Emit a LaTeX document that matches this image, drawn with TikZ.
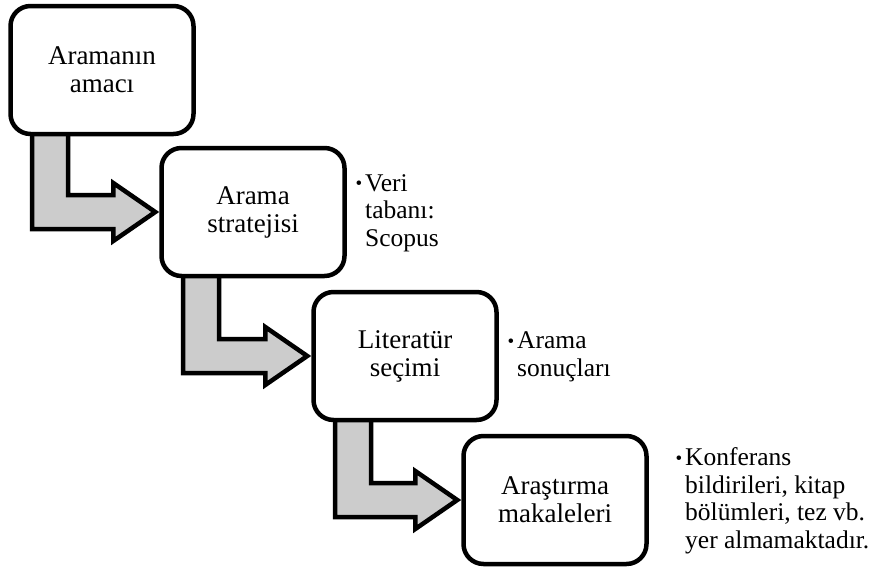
\documentclass[tikz,border=0pt]{standalone}
\usepackage{fontspec}
\setmainfont{Liberation Serif}
\usetikzlibrary{calc,backgrounds}
\newcommand{\mybul}{\llap{\raisebox{1.5pt}{\fontsize{19}{19}\selectfont •}\hspace{3pt}}}
\begin{document}
\begin{tikzpicture}[x=1pt,y=-1pt,
  stepbox/.style={draw, line width=4.5pt, rounded corners=20pt, fill=white,
    minimum width=183pt, minimum height=128pt, align=center, inner sep=0pt,
    font=\fontsize{27}{28}\selectfont},
  note/.style={anchor=west, align=left, inner sep=0pt,
    font=\fontsize{25.5}{27.5}\selectfont},
  bent/.style={draw, line width=4.5pt, fill=black!20, line join=miter}]
\useasboundingbox (0,0) rectangle (878,570);
\node[stepbox] (b1) at (102,70) {Aramanın\\amacı};
\node[stepbox] (b2) at (253,212) {Arama\\stratejisi};
\node[stepbox] (b3) at (405,356) {Literatür\\seçimi};
\node[stepbox] (b4) at (555,500) {Araştırma\\makaleleri};
\node[note] (n1) at (365,213) {\mybul Veri\\tabanı:\\Scopus};
\node[note] (n2) at (517,357) {\mybul Arama\\sonuçları};
\node[note] (n3) at (685,501) {\mybul Konferans\\bildirileri, kitap\\bölümleri, tez vb.\\yer almamaktadır.};
\begin{scope}[on background layer]
\foreach \a/\b in {b1/b2,b2/b3,b3/b4}{
  \coordinate (t) at ([xshift=-4pt]\b.west);
  \draw[bent] ($(\a.center)+(-70,0)$) -- ($(\a.center |- t)+(-70,17)$)
    -- ($(t)+(-42,17)$) -- ($(t)+(-42,29)$) -- (t)
    -- ($(t)+(-42,-29)$) -- ($(t)+(-42,-17)$)
    -- ($(\a.center |- t)+(-34,-17)$) -- ($(\a.center)+(-34,0)$) -- cycle;
}
\end{scope}
\end{tikzpicture}
\end{document}
